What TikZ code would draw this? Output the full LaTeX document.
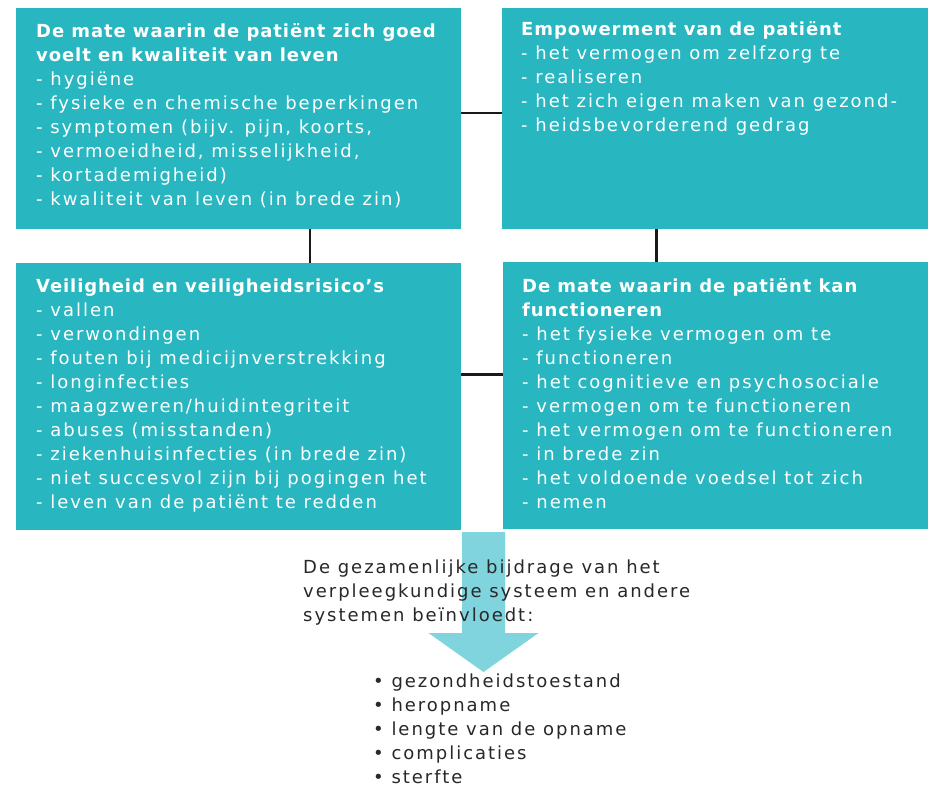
\documentclass[tikz,border=0pt]{standalone}
\usepackage{fontspec}
\setmainfont[LetterSpace=11,BoldFeatures={LetterSpace=5}]{DejaVu Sans}
\definecolor{boxteal}{RGB}{40,182,192}
\definecolor{arrowcyan}{RGB}{128,212,222}
\definecolor{darktext}{RGB}{40,40,40}
\definecolor{linecol}{RGB}{25,25,25}
\newcommand\mylines[1]{\vtop{\baselineskip=24pt\lineskiplimit=-20pt\halign{##\hfil\cr#1\crcr}}}
\begin{document}
\begin{tikzpicture}[x=1pt,y=-1pt,
  box/.style={fill=boxteal,draw=none,inner sep=0pt,outer sep=0pt,anchor=north west},
  boxtext/.style={anchor=base west,inner sep=0pt,text=white,font=\fontsize{18}{24}\selectfont},
  plaintext/.style={anchor=base west,inner sep=0pt,text=darktext,font=\fontsize{18}{24}\selectfont},
  conn/.style={draw=linecol,line width=2.6pt}]
\useasboundingbox (0,0) rectangle (928,790);
\fill[white] (0,0) rectangle (928,790);
% boxes
\node[box,minimum width=445pt,minimum height=221pt] (tl) at (16,8) {};
\node[box,minimum width=426pt,minimum height=221pt] (tr) at (502,8) {};
\node[box,minimum width=445pt,minimum height=267pt] (bl) at (16,263) {};
\node[box,minimum width=425pt,minimum height=267pt] (br) at (503,262) {};
% connectors
\draw[conn] ([yshift=5.5pt]tl.east) -- ([yshift=5.5pt]tl.east -| tr.west);
\draw[conn] ([xshift=71.5pt]tl.south) -- ([xshift=71.5pt]tl.south |- bl.north);
\draw[conn] ([xshift=-58.5pt]tr.south) -- ([xshift=-58.5pt]tr.south |- br.north);
\draw[conn] ([yshift=22pt]bl.east) -- ([yshift=22pt]bl.east -| br.west);
% arrow
\coordinate (atop) at (483.5,532);
\coordinate (atip) at (483.5,672);
\fill[arrowcyan] ([xshift=-21.5pt]atop) -- ([xshift=21.5pt]atop) -- ([xshift=21.5pt,yshift=-101pt]atop)
  -- ([xshift=55pt,yshift=39pt]atip) -- (atip) -- ([xshift=-55pt,yshift=39pt]atip)
  -- ([xshift=-21.5pt,yshift=-101pt]atop) -- cycle;
% box texts
\node[boxtext] (tltext) at (36,37) {\mylines{%
{\bfseries De mate waarin de patiënt zich goed}\cr
{\bfseries voelt en kwaliteit van leven}\cr
- hygiëne\cr
- fysieke en chemische beperkingen\cr
- symptomen (bijv. pijn, koorts,\cr
- vermoeidheid, misselijkheid,\cr
- kortademigheid)\cr
- kwaliteit van leven (in brede zin)}};
\node[boxtext] (trtext) at (521,35) {\mylines{%
{\bfseries Empowerment van de patiënt}\cr
- het vermogen om zelfzorg te\cr
- realiseren\cr
- het zich eigen maken van gezond-\cr
- heidsbevorderend gedrag}};
\node[boxtext] (bltext) at (36,292) {\mylines{%
{\bfseries Veiligheid en veiligheidsrisico’s}\cr
- vallen\cr
- verwondingen\cr
- fouten bij medicijnverstrekking\cr
- longinfecties\cr
- maagzweren/huidintegriteit\cr
- abuses (misstanden)\cr
- ziekenhuisinfecties (in brede zin)\cr
- niet succesvol zijn bij pogingen het\cr
- leven van de patiënt te redden}};
\node[boxtext] (brtext) at (522,292) {\mylines{%
{\bfseries De mate waarin de patiënt kan}\cr
{\bfseries functioneren}\cr
- het fysieke vermogen om te\cr
- functioneren\cr
- het cognitieve en psychosociale\cr
- vermogen om te functioneren\cr
- het vermogen om te functioneren\cr
- in brede zin\cr
- het voldoende voedsel tot zich\cr
- nemen}};
% lower texts
\node[plaintext] (joint) at (303,573) {\mylines{%
De gezamenlijke bijdrage van het\cr
verpleegkundige systeem en andere\cr
systemen beïnvloedt:}};
\node[plaintext] (results) at (373,687) {\mylines{%
• gezondheidstoestand\cr
• heropname\cr
• lengte van de opname\cr
• complicaties\cr
• sterfte}};
\end{tikzpicture}
\end{document}
